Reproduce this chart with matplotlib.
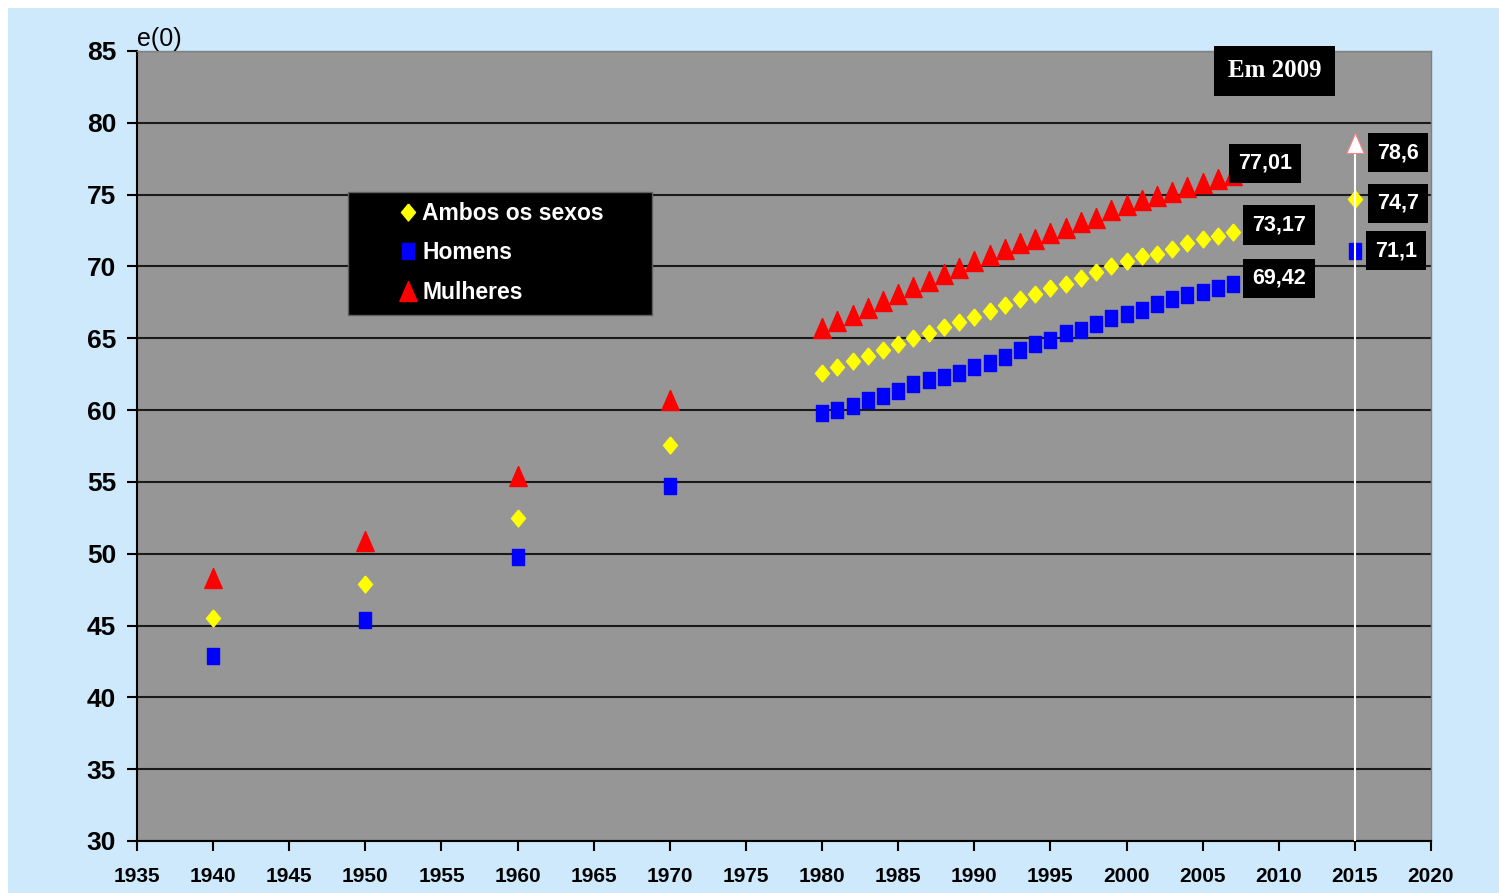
import matplotlib.pyplot as plt
from matplotlib.path import Path
from matplotlib.patches import Rectangle

# censos
anos_censo = [1940, 1950, 1960, 1970]
ambos_censo = [45.5, 47.9, 52.5, 57.6]
homens_censo = [42.9, 45.4, 49.8, 54.7]
mulheres_censo = [48.3, 50.9, 55.4, 60.7]

# serie anual 1980-2007
anos = list(range(1980, 2008))
ambos = [62.6, 63.0, 63.4, 63.8, 64.2, 64.6, 65.0, 65.4, 65.8, 66.1,
         66.5, 66.9, 67.3, 67.7, 68.1, 68.5, 68.8, 69.2, 69.6, 70.0,
         70.4, 70.7, 70.9, 71.2, 71.6, 71.9, 72.1, 72.4]
homens = [59.8, 60.0, 60.3, 60.7, 61.0, 61.3, 61.8, 62.1, 62.3, 62.6,
          63.0, 63.3, 63.7, 64.2, 64.6, 64.9, 65.4, 65.6, 66.0, 66.4,
          66.7, 67.0, 67.4, 67.7, 68.0, 68.2, 68.5, 68.8]
mulheres = [65.7, 66.2, 66.6, 67.1, 67.6, 68.1, 68.6, 69.0, 69.5, 69.9,
            70.4, 70.8, 71.2, 71.6, 71.9, 72.3, 72.7, 73.1, 73.4, 73.9,
            74.3, 74.6, 74.9, 75.2, 75.5, 75.8, 76.1, 76.4]

# projecao
ano_proj = 2015
ambos_proj = 74.7
homens_proj = 71.1
mulheres_proj = 78.6

rotulos_2009 = ['77,01', '73,17', '69,42']
rotulos_proj = ['78,6', '74,7', '71,1']

plt.rcParams['font.family'] = ['Liberation Sans', 'DejaVu Sans']

# marcadores um pouco mais altos que largos
quadrado = Path([(-0.75, -1), (0.75, -1), (0.75, 1), (-0.75, 1), (-0.75, -1)])
losango = Path([(0, 1), (0.83, 0), (0, -1), (-0.83, 0), (0, 1)])
triangulo = Path([(0, 1), (0.87, -1), (-0.87, -1), (0, 1)])

fig = plt.figure(figsize=(14.99, 8.93), dpi=100, facecolor='white')
fig.patches.append(Rectangle((8 / 1499, 0), 1, 1 - 8 / 893, transform=fig.transFigure,
                             facecolor='#cde9fb', edgecolor='none', zorder=-10))
ax = fig.add_axes([137 / 1499, 1 - 841 / 893, 1294 / 1499, 790 / 893])
ax.set_facecolor('#969696')

kw_a = dict(marker=losango, ms=12.2, color='#ffff00', mec='#ffff00', ls='none', zorder=3)
kw_h = dict(marker=quadrado, ms=11.5, color='#0000ff', mec='#0000ff', ls='none', zorder=3)
kw_m = dict(marker=triangulo, ms=14.4, color='#ff0000', mec='#ff0000', ls='none', zorder=3)

ax.plot(anos_censo, ambos_censo, **kw_a)
ax.plot(anos_censo, homens_censo, **kw_h)
ax.plot(anos_censo, mulheres_censo, **kw_m)
ax.plot(anos, ambos, label='Ambos os sexos', **kw_a)
ax.plot(anos, homens, label='Homens', **kw_h)
ax.plot(anos, mulheres, label='Mulheres', **kw_m)

ax.plot([ano_proj], [ambos_proj], **kw_a)
ax.plot([ano_proj], [homens_proj], **kw_h)
ax.vlines(ano_proj, 30, mulheres_proj, color='white', lw=1.5, zorder=4)
ax.plot([ano_proj], [mulheres_proj], marker=triangulo, ms=14.4, color='white',
        mec='#ff8080', mew=0.8, ls='none', zorder=5)

ax.set_xlim(1935, 2020)
ax.set_ylim(30, 85)
ax.set_xticks(range(1935, 2021, 5))
ax.set_yticks(range(30, 86, 5))
ax.yaxis.grid(True, color='#1a1a1a', lw=1.5)
ax.set_axisbelow(True)
for lab in ax.get_xticklabels():
    lab.set_fontweight('bold')
    lab.set_fontsize(15)
for lab in ax.get_yticklabels():
    lab.set_fontweight('bold')
    lab.set_fontsize(19)
ax.tick_params(axis='x', direction='out', length=7, width=1.5, pad=12)
ax.tick_params(axis='y', direction='out', length=7, width=1.5, pad=8)
for s in ['left', 'bottom']:
    ax.spines[s].set_color('black')
    ax.spines[s].set_linewidth(1.5)
for s in ['top', 'right']:
    ax.spines[s].set_color('#808080')
    ax.spines[s].set_linewidth(1)

ax.text(0, 1.0, 'e(0)', transform=ax.transAxes, ha='left', va='bottom', fontsize=18)

caixa = dict(boxstyle='square,pad=0.42', facecolor='black', edgecolor='none')
ult = [mulheres[-1], ambos[-1], homens[-1]]
desl = [(23, 8), (33, 5), (33, 4)]
for txt, v, d in zip(rotulos_2009, ult, desl):
    ax.annotate(txt, (anos[-1], v), xytext=d, textcoords='offset points', ha='center',
                va='center', color='white', fontsize=15.5, fontweight='bold', bbox=caixa, zorder=6)
proj = [mulheres_proj, ambos_proj, homens_proj]
desl = [(31, -7), (31, -3), (29.5, 0)]
for txt, v, d in zip(rotulos_proj, proj, desl):
    ax.annotate(txt, (ano_proj, v), xytext=d, textcoords='offset points', ha='center',
                va='center', color='white', fontsize=15.5, fontweight='bold', bbox=caixa, zorder=6)

ax.text(0.8794, 0.9747, 'Em 2009', transform=ax.transAxes, ha='center', va='center',
        color='white', fontsize=18, fontweight='bold', family='Liberation Serif',
        bbox=dict(boxstyle='square,pad=0.55', facecolor='black', edgecolor='none'), zorder=6)

# caixa da legenda
ax.add_patch(Rectangle((0.1631, 0.6658), 0.2349, 0.1557, transform=ax.transAxes,
                       facecolor='black', edgecolor='#606060', lw=1, zorder=5))
leg = ax.legend(loc='upper left', bbox_to_anchor=(0.2036, 0.8094), frameon=False,
                prop={'size': 16.5, 'weight': 'bold'}, handlelength=0.65, handletextpad=0.3,
                borderpad=0, borderaxespad=0, labelspacing=0.72)
leg.set_zorder(6)
for t in leg.get_texts():
    t.set_color('white')

fig.savefig('out.png', dpi=100, facecolor=fig.get_facecolor())
